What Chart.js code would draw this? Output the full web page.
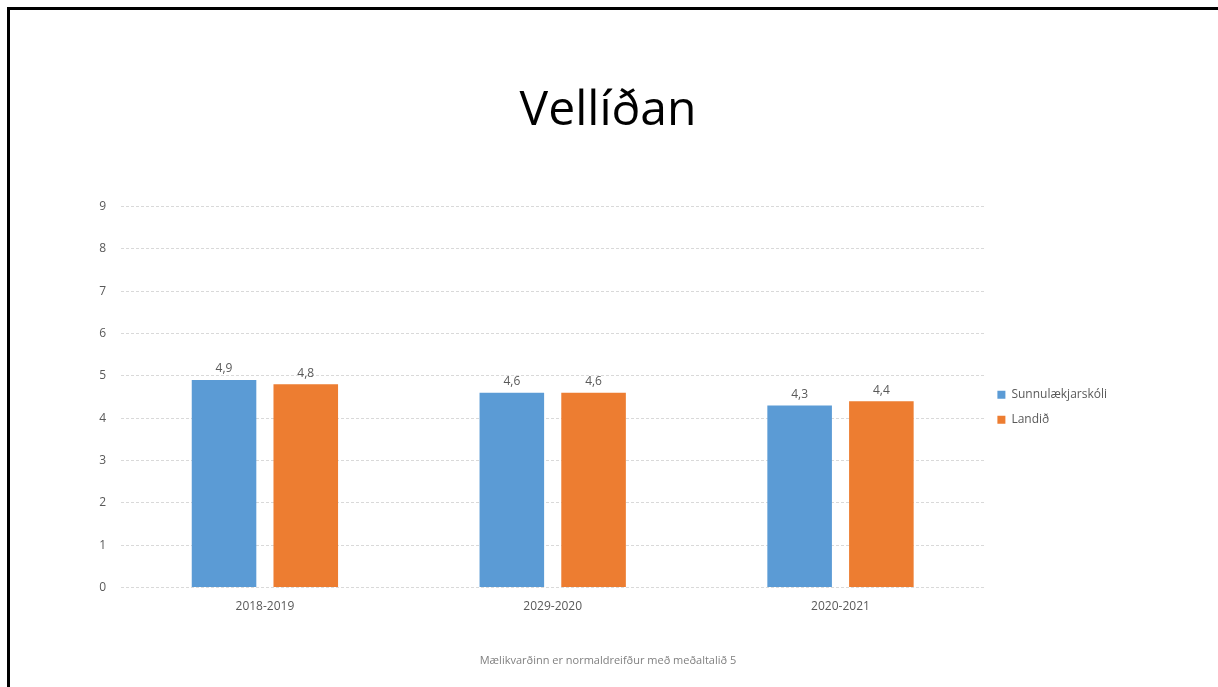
<!DOCTYPE html>
<html>
<head>
<meta charset="utf-8">
<script src="https://cdn.jsdelivr.net/npm/chart.js@4/dist/chart.umd.min.js"></script>
<style>
    html, body { margin: 0; padding: 0; background: #fff; }
    #wrap { position: relative; width: 1218px; height: 687px; overflow: hidden; }
    #frame { position: absolute; left: 7px; top: 7px; right: -10px; bottom: -10px; border-left: 3px solid #000; border-top: 3px solid #000; pointer-events: none; }
</style>
</head>
<body>
<div id="wrap">
    <canvas id="vellidanGraf" width="1218" height="687"></canvas>
    <div id="frame"></div>
</div>
<script>
    const flokkar = ['2018-2019', '2029-2020', '2020-2021'];
    const sunnulaekjarskoli = [4.9, 4.6, 4.3];
    const landid = [4.8, 4.6, 4.4];
    const kvardi = [0, 1, 2, 3, 4, 5, 6, 7, 8, 9];

    function kommutala(v) {
        return v.toFixed(1).replace('.', ',');
    }

    // gildi fyrir ofan súlurnar
    const gildiPlugin = {
        id: 'gildi',
        afterDatasetsDraw(chart) {
            const ctx = chart.ctx;
            ctx.save();
            ctx.font = '12px "Open Sans"';
            ctx.fillStyle = '#595959';
            ctx.textAlign = 'center';
            ctx.textBaseline = 'bottom';
            chart.data.datasets.forEach(function (ds, i) {
                chart.getDatasetMeta(i).data.forEach(function (bar, j) {
                    ctx.fillText(kommutala(ds.data[j]), bar.x, bar.y - 5);
                });
            });
            ctx.restore();
        }
    };

    const ctx = document.getElementById('vellidanGraf').getContext('2d');
    new Chart(ctx, {
        type: 'bar',
        data: {
            labels: flokkar,
            datasets: [
                {
                    label: 'Sunnulækjarskóli',
                    data: sunnulaekjarskoli,
                    backgroundColor: '#5B9BD5',
                    barPercentage: 0.79,
                    categoryPercentage: 0.568
                },
                {
                    label: 'Landið',
                    data: landid,
                    backgroundColor: '#ED7D31',
                    barPercentage: 0.79,
                    categoryPercentage: 0.568
                }
            ]
        },
        options: {
            responsive: false,
            animation: false,
            layout: {
                padding: { left: 99, right: 101, top: 0, bottom: 10 }
            },
            plugins: {
                title: {
                    display: true,
                    text: 'Vellíðan',
                    color: '#000',
                    font: { family: '"Open Sans"', size: 48, weight: 'normal' },
                    padding: { top: 83, bottom: 66 }
                },
                subtitle: {
                    display: true,
                    position: 'bottom',
                    text: 'Mælikvarðinn er normaldreifður með meðaltalið 5',
                    color: '#808080',
                    font: { family: '"Open Sans"', size: 11 },
                    padding: { top: 36, bottom: 10 }
                },
                legend: {
                    position: 'right',
                    fullSize: false,
                    title: {
                        display: true,
                        text: ' ',
                        padding: 0,
                        font: { size: 17 }
                    },
                    labels: {
                        boxWidth: 8,
                        boxHeight: 8,
                        padding: 13,
                        color: '#595959',
                        font: { family: '"Open Sans"', size: 12 }
                    }
                },
                tooltip: { enabled: false }
            },
            scales: {
                x: {
                    grid: { display: false },
                    border: { display: false },
                    ticks: {
                        color: '#595959',
                        padding: 4,
                        font: { family: '"Open Sans"', size: 12 }
                    }
                },
                y: {
                    min: kvardi[0],
                    max: kvardi[kvardi.length - 1],
                    afterBuildTicks(axis) {
                        axis.ticks = kvardi.map(function (v) { return { value: v }; });
                    },
                    afterFit(axis) {
                        axis.width = 22;
                    },
                    grid: { color: '#d9d9d9', drawTicks: false },
                    border: { display: false, dash: [3, 2] },
                    ticks: {
                        color: '#595959',
                        padding: 15,
                        font: { family: '"Open Sans"', size: 12 }
                    }
                }
            }
        },
        plugins: [gildiPlugin]
    });
</script>
</body>
</html>
